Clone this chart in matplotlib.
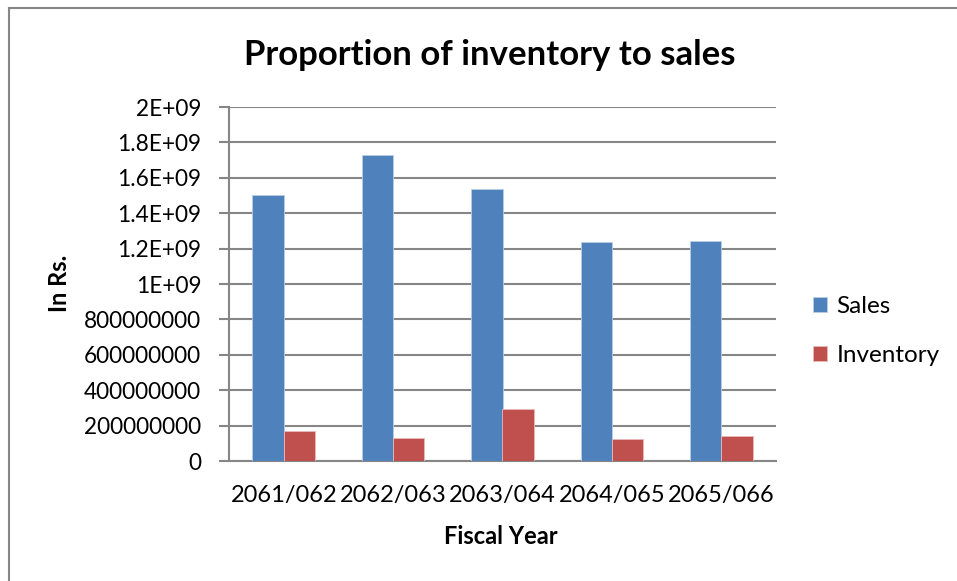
import matplotlib.pyplot as plt
import numpy as np
from matplotlib.lines import Line2D

# Fiscal years and amounts (Rs.)
years = ["2061/062", "2062/063", "2063/064", "2064/065", "2065/066"]
sales = [1.504e9, 1.728e9, 1.538e9, 1.236e9, 1.243e9]
inventory = [0.170e9, 0.130e9, 0.294e9, 0.125e9, 0.140e9]
yticks = [0, 2e8, 4e8, 6e8, 8e8, 1e9, 1.2e9, 1.4e9, 1.6e9, 1.8e9, 2e9]
ytick_labels = ["0", "200000000", "400000000", "600000000", "800000000",
                "1E+09", "1.2E+09", "1.4E+09", "1.6E+09", "1.8E+09", "2E+09"]

plt.rcParams["font.family"] = ["Lato", "DejaVu Sans"]
grid_col = "#868686"
W, H = 957, 581

fig = plt.figure(figsize=(W / 100, H / 100), dpi=100)
ax = fig.add_axes([229 / W, 1 - 461 / H, (776 - 229) / W, (461 - 107) / H])

x = np.arange(len(years))
w = 1 / 3.5
ax.bar(x - w / 2, sales, w, color="#4F81BD", edgecolor="#B9CDE5", linewidth=0.6, label="Sales", zorder=3)
ax.bar(x + w / 2, inventory, w, color="#C0504D", edgecolor="#E6B9B8", linewidth=0.6, label="Inventory", zorder=3)

ax.set_xlim(-0.5, len(years) - 0.5)
ax.set_ylim(0, 2e9)
ax.set_yticks(yticks)
ax.set_yticklabels(ytick_labels, fontsize=16.3)
ax.set_xticks(x)
ax.set_xticklabels(years, fontsize=17)
ax.tick_params(axis="x", length=0, pad=17)
ax.tick_params(axis="y", length=7, width=1.5, color=grid_col, pad=13)
ax.yaxis.grid(True, color=grid_col, linewidth=1.5, zorder=0)
for s in ["top", "right"]:
    ax.spines[s].set_visible(False)
for s in ["left", "bottom"]:
    ax.spines[s].set_color(grid_col)
    ax.spines[s].set_linewidth(1.5)

# axis titles and chart title
fig.text(501 / W, 1 - 536 / H, "Fiscal Year", fontsize=17, fontweight="bold",
         ha="center", va="center")
fig.text(60 / W, 1 - 283 / H, "In Rs.", fontsize=17, fontweight="bold",
         rotation=90, ha="center", va="center")
fig.text(490 / W, 1 - 55 / H, "Proportion of inventory to sales",
         fontsize=25, fontweight="bold", ha="center", va="center")

fig.legend(loc="center left", bbox_to_anchor=(813 / W, 1 - 331 / H), frameon=False,
           fontsize=17.5, handlelength=0.57, handleheight=0.57, labelspacing=1.15,
           handletextpad=0.4, borderpad=0, borderaxespad=0)

# outer chart border (top and left edges)
fig.add_artist(Line2D([9 / W, 1], [1 - 8 / H, 1 - 8 / H], color=grid_col, linewidth=1.5))
fig.add_artist(Line2D([9 / W, 9 / W], [0, 1 - 8 / H], color=grid_col, linewidth=1.5))

fig.savefig("out.png", dpi=100)
